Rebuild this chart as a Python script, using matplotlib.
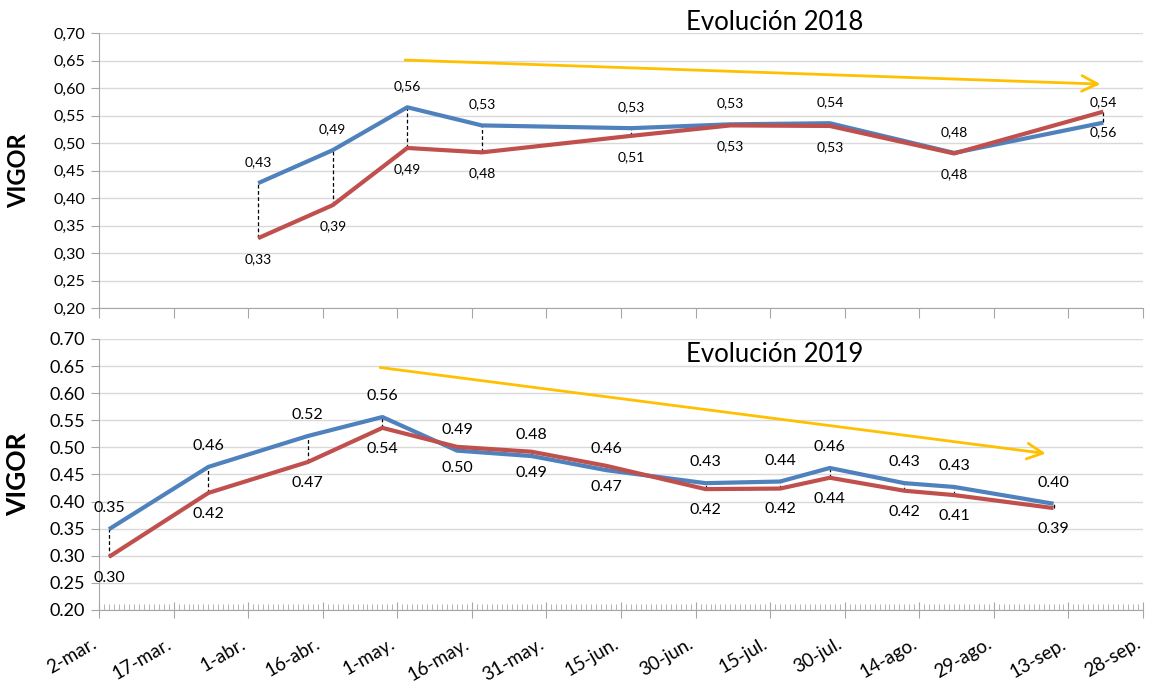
import pandas as pd
import matplotlib
matplotlib.use("Agg")
import matplotlib.pyplot as plt
import matplotlib.dates as mdates
import matplotlib.transforms as mtransforms

plt.rcParams['font.family'] = ['Lato', 'DejaVu Sans']

# 2018 season
dates_2018 = ["2018-04-03", "2018-04-18", "2018-05-03", "2018-05-18", "2018-06-17",
              "2018-07-07", "2018-07-27", "2018-08-21", "2018-09-20"]
blue_2018 = [0.427, 0.487, 0.565, 0.532, 0.527, 0.534, 0.536, 0.482, 0.537]
red_2018 = [0.327, 0.387, 0.491, 0.483, 0.513, 0.532, 0.531, 0.481, 0.557]
arrow_2018 = [("2018-05-02", 0.651), ("2018-09-20", 0.607)]

# 2019 season
dates_2019 = ["2019-03-04", "2019-03-24", "2019-04-13", "2019-04-28", "2019-05-13",
              "2019-05-28", "2019-06-12", "2019-07-02", "2019-07-17", "2019-07-27",
              "2019-08-11", "2019-08-21", "2019-09-10"]
blue_2019 = [0.349, 0.464, 0.521, 0.556, 0.494, 0.484, 0.458, 0.434, 0.437, 0.462, 0.434, 0.427, 0.396]
red_2019 = [0.298, 0.416, 0.473, 0.536, 0.501, 0.492, 0.466, 0.423, 0.424, 0.444, 0.420, 0.412, 0.388]
arrow_2019 = [("2019-04-27", 0.648), ("2019-09-09", 0.488)]

tick_labels = ["2-mar.", "17-mar.", "1-abr.", "16-abr.", "1-may.", "16-may.", "31-may.",
               "15-jun.", "30-jun.", "15-jul.", "30-jul.", "14-ago.", "29-ago.", "13-sep.", "28-sep."]

BLUE = "#4F81BD"
RED = "#C0504D"
YELLOW = "#FFC000"
GRID = "#D9D9D9"
AXIS = "#A6A6A6"

fig = plt.figure(figsize=(11.49, 6.88), dpi=100)
ax1 = fig.add_axes([0.0862, 0.5523, 0.9086, 0.3997])
ax2 = fig.add_axes([0.0862, 0.1134, 0.9086, 0.3939])


def panel(ax, year, dates, blue, red, arrow, title, title_y, dec, lab_fs, tick_fs, vig_fs):
    x = pd.to_datetime(dates)
    ax.vlines(x, red, blue, colors="black", linestyles=(0, (3, 2)), lw=0.9, zorder=2)
    ax.plot(x, blue, color=BLUE, lw=3, zorder=3, solid_capstyle="butt")
    ax.plot(x, red, color=RED, lw=3, zorder=3, solid_capstyle="butt")
    for xi, b, r in zip(x, blue, red):
        ax.annotate(f"{b:.2f}".replace(".", dec), (xi, b), xytext=(0, 15), textcoords="offset points",
                    ha="center", va="center", fontsize=lab_fs)
        ax.annotate(f"{r:.2f}".replace(".", dec), (xi, r), xytext=(0, -15), textcoords="offset points",
                    ha="center", va="center", fontsize=lab_fs)
    (d0, y0), (d1, y1) = arrow
    ax.annotate("", xy=(mdates.date2num(pd.Timestamp(d1)), y1),
                xytext=(mdates.date2num(pd.Timestamp(d0)), y0),
                arrowprops=dict(arrowstyle="->", color=YELLOW, lw=2, mutation_scale=28))
    ax.text(0.6475, title_y, title, transform=ax.transAxes, ha="center", va="center", fontsize=18.5)

    ticks = pd.date_range(f"{year}-03-02", periods=15, freq="15D")
    ax.set_xlim(ticks[0], ticks[-1])
    ax.set_xticks(ticks)
    ax.set_ylim(0.20, 0.70)
    yt = [0.20 + 0.05 * i for i in range(11)]
    ax.set_yticks(yt)
    ax.set_yticklabels([f"{v:.2f}".replace(".", dec) for v in yt], fontsize=tick_fs)
    ax.grid(axis="y", color=GRID, lw=1)
    ax.set_axisbelow(True)
    for s in ["top", "right"]:
        ax.spines[s].set_visible(False)
    for s in ["left", "bottom"]:
        ax.spines[s].set_color(AXIS)
    ax.tick_params(axis="y", color=AXIS, length=6, pad=4)
    ax.set_ylabel("VIGOR", fontsize=vig_fs, fontweight="bold")
    ax.yaxis.set_label_coords(-0.066, 0.5)


panel(ax1, 2018, dates_2018, blue_2018, red_2018, arrow_2018, "Evolución 2018", 1.04, ",", 10, 11.5, 17)
ax1.tick_params(axis="x", color=AXIS, length=7, labelbottom=False)

panel(ax2, 2019, dates_2019, blue_2019, red_2019, arrow_2019, "Evolución 2019", 0.941, ".", 11.5, 13, 19)
ax2.xaxis.set_minor_locator(mdates.DayLocator())
ax2.set_xticklabels(tick_labels, rotation=30, ha="right", rotation_mode="anchor", fontsize=13.5)
ax2.tick_params(axis="x", which="major", direction="inout", color=AXIS, length=12, pad=12)
ax2.tick_params(axis="x", which="minor", direction="in", color=AXIS, length=4)
shift = mtransforms.ScaledTranslation(-6 / 72, 0, fig.dpi_scale_trans)
for lbl in ax2.get_xticklabels():
    lbl.set_transform(lbl.get_transform() + shift)

fig.savefig("out.png", dpi=100)
